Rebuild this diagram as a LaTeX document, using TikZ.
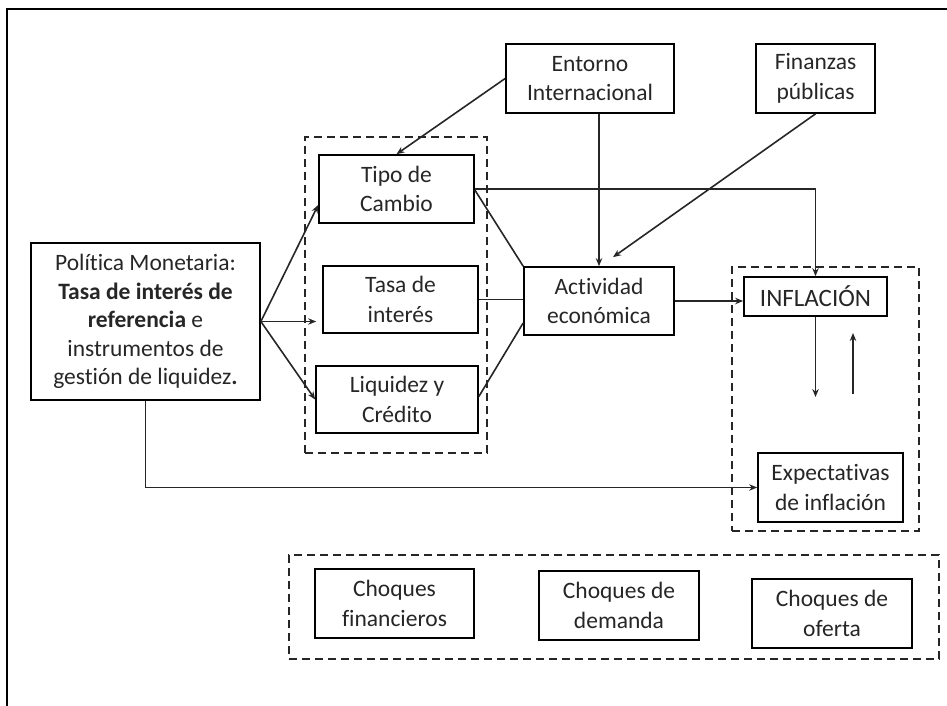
\documentclass[tikz,border=0pt]{standalone}
\usepackage{fontspec}
\setmainfont{Carlito}[Ligatures=NoCommon]
\usetikzlibrary{arrows.meta,calc}
\begin{document}
\begin{tikzpicture}[x=1pt,y=-1pt,
  box/.style={draw=black,line width=1.7pt,inner sep=0pt,align=center,
    font=\fontsize{23.5}{29.5}\selectfont,text=black!85},
  grp/.style={draw=black!85,line width=1.5pt,dash pattern=on 8pt off 5pt,inner sep=0pt},
  conn/.style={line width=1.6pt,draw=black!85},
  arr/.style={conn,-{Stealth[length=8pt,width=6.5pt]}}]
\useasboundingbox (0,0) rectangle (947,706);
\draw[line width=2.2pt] (7,706) -- (7,9) -- (947,9);
% dashed groups
\node[grp,minimum width=182pt,minimum height=316pt] (g1) at (396,295) {};
\node[grp,minimum width=187pt,minimum height=264pt] (g2) at (825.5,399) {};
\node[grp,minimum width=650pt,minimum height=104pt] (g3) at (614,607) {};
% boxes
\node[box,minimum width=168pt,minimum height=69pt] (ent) at (590,78.5) {Entorno\\Internacional};
\node[box,minimum width=119pt,minimum height=69pt] (fin) at (815.5,78.5) {Finanzas\\públicas};
\node[box,minimum width=229pt,minimum height=157pt,font=\fontsize{23.5}{28.5}\selectfont] (pol) at (145.5,321.5) {Política Monetaria:\\\textbf{Tasa de interés de}\\\textbf{referencia} e\\instrumentos de\\gestión de liquidez\textbf{.}};
\node[box,minimum width=155pt,minimum height=68pt] (tipo) at (396.5,189) {Tipo de\\Cambio};
\node[box,minimum width=155pt,minimum height=67pt] (tasa) at (400.5,299.5) {Tasa de\\interés};
\node[box,minimum width=162pt,minimum height=67pt] (liq) at (397,399.5) {Liquidez y\\Crédito};
\node[box,minimum width=150pt,minimum height=68pt] (act) at (599,301) {Actividad\\económica};
\node[box,minimum width=143pt,minimum height=39pt,font=\fontsize{25}{29.5}\selectfont] (infl) at (815.5,296.5) {INFLACIÓN};
\node[box,minimum width=145pt,minimum height=69pt] (exp) at (830.5,487.5) {Expectativas\\de inflación};
\node[box,minimum width=159pt,minimum height=69pt] (cf) at (394.5,603.5) {Choques\\financieros};
\node[box,minimum width=160pt,minimum height=69pt] (cd) at (619,605.5) {Choques de\\demanda};
\node[box,minimum width=160pt,minimum height=69pt] (co) at (832,613.5) {Choques de\\oferta};
% free coordinates
\coordinate (fintip) at ($(act.north)+(14,-9)$);
\coordinate (dn) at (815.5,397);
\coordinate (up1) at (853,394);
\coordinate (up2) at (853,333);
% connectors
\draw[arr] (pol.east) -- ($(tipo.west)+(0,16)$);
\draw[arr,shorten >=6pt] (pol.east) -- (tasa.west |- pol.east);
\draw[arr] (pol.east) -- (liq.west);
\draw[arr] (ent.west) -- (tipo.north);
\draw[arr] (act.north |- ent.south) -- (act.north);
\draw[arr] (fin.south) -- (fintip);
\draw[arr] (act.east) -- (act.east -| infl.west);
\draw[arr] (tipo.east) -- (infl.north |- tipo.east) -- (infl.north);
\draw[conn] ($(tipo.east)+(0,1)$) -- (act.north west);
\draw[conn] (tasa.east) -- (tasa.east -| act.west);
\draw[conn] ($(liq.east)+(0,-3)$) -- ($(act.west)+(0,22)$);
\draw[arr] (infl.south) -- (dn);
\draw[arr] (up1) -- (up2);
\draw[arr] (pol.south) -- (pol.south |- exp.west) -- (exp.west);
\end{tikzpicture}
\end{document}
